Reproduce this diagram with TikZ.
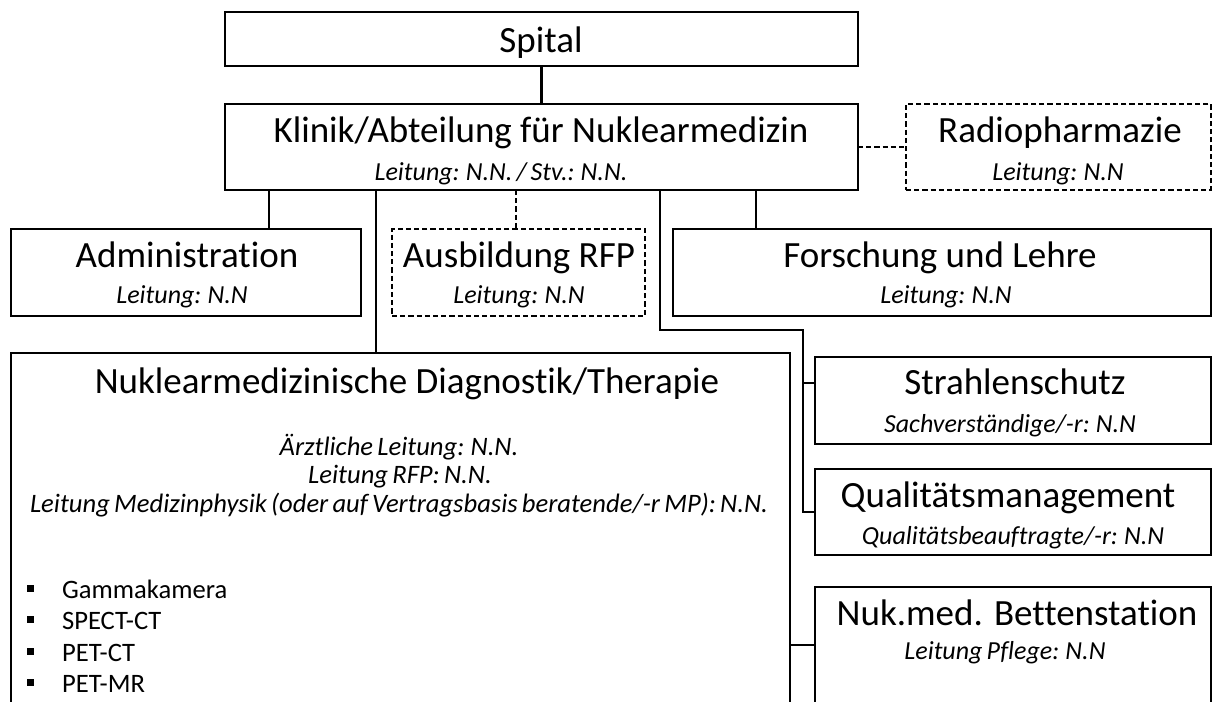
\documentclass[tikz,border=0pt]{standalone}
\usepackage{fontspec}
\setmainfont{Carlito}[Ligatures=NoCommon]
\newfontfamily\subfont{Carlito}[Ligatures=NoCommon, WordSpace=0.7]
\usetikzlibrary{positioning}

\begin{document}
\begin{tikzpicture}[x=0.5pt, y=-0.5pt, line width=1.1pt,
  box/.style={draw, inner sep=0pt, outer sep=0pt},
  dbox/.style={box, dash pattern=on 2.6pt off 1.5pt},
  dline/.style={dash pattern=on 2.6pt off 1.5pt},
  head/.style={anchor=base, inner sep=0pt, font=\fontsize{18.5}{20}\selectfont},
  sub/.style={anchor=base, inner sep=0pt, font=\fontsize{13}{15}\subfont\itshape}]
  \useasboundingbox (0,0) rectangle (1212,702);
  \clip (0,0) rectangle (1212,702);
  % boxes
  \node[box, minimum width=316.5pt, minimum height=27pt] (spital) at (541.5,39) {};
  \node[box, minimum width=316.5pt, minimum height=43pt] (klinik) at (541.5,147) {};
  \node[dbox, minimum width=152.5pt, minimum height=43pt] (radio) at (1058.5,147) {};
  \node[box, minimum width=175pt, minimum height=43.5pt] (admin) at (186,272.5) {};
  \node[dbox, minimum width=126.5pt, minimum height=43.5pt] (ausb) at (518.5,272.5) {};
  \node[box, minimum width=269pt, minimum height=43.5pt] (forsch) at (942,272.5) {};
  \node[box, minimum width=198pt, minimum height=43.5pt] (strahl) at (1013,400.5) {};
  \node[box, minimum width=198pt, minimum height=43pt] (quali) at (1013,512) {};
  \node[box, minimum width=198pt, minimum height=66.5pt] (betten) at (1013,653.5) {};
  \node[box, minimum width=389.5pt, minimum height=183.5pt] (nukl) at (400.5,536.5) {};
  % texts
  \node[head] (spitalT) at (541,52) {Spital};
  \node[head] (klinikT) at (541,142) {Klinik/Abteilung für Nuklearmedizin};
  \node[sub] (klinikS) at (501,180) {Leitung: N.N. / Stv.: N.N.};
  \node[head] (radioT) at (1060,142) {Radiopharmazie};
  \node[sub] (radioS) at (1058,180) {Leitung: N.N};
  \node[head] (adminT) at (187,267) {Administration};
  \node[sub] (adminS) at (182,303) {Leitung: N.N};
  \node[head] (ausbT) at (519,267) {Ausbildung RFP};
  \node[sub] (ausbS) at (519,303) {Leitung: N.N};
  \node[head] (forschT) at (940,267) {Forschung und Lehre};
  \node[sub] (forschS) at (946,303) {Leitung: N.N};
  \node[head] (strahlT) at (1015,394) {Strahlenschutz};
  \node[sub] (strahlS) at (1010,432) {Sachverständige/-r: N.N};
  \node[head] (qualiT) at (1008,507) {Qualitätsmanagement};
  \node[sub] (qualiS) at (1013,544) {Qualitätsbeauftragte/-r: N.N};
  \node[head] (bettenT) at (1017,625) {Nuk.med. Bettenstation};
  \node[sub] (bettenS) at (1005,659) {Leitung Pflege: N.N};
  \node[head] (nuklT) at (407,393) {Nuklearmedizinische Diagnostik/Therapie};
  \node[sub, font=\fontsize{13.3}{15}\subfont\itshape] (nuklA) at (399,455) {Ärztliche Leitung: N.N.};
  \node[sub, font=\fontsize{13.3}{15}\subfont\itshape] (nuklB) at (400,483) {Leitung RFP: N.N.};
  \node[sub, font=\fontsize{13.3}{15}\subfont\itshape] (nuklC) at (399,512) {Leitung Medizinphysik (oder auf Vertragsbasis beratende/-r MP): N.N.};
  \foreach \t [count=\i from 0] in {Gammakamera, SPECT-CT, PET-CT, PET-MR}{
    \node[fill, inner sep=0pt, minimum size=3.5pt] (dot\i) at (30,588+31.5*\i) {};
    \node[anchor=base west, inner sep=0pt, font=\fontsize{13.3}{15}\selectfont] (item\i) at (61,598+31.5*\i) {\t};}
  % connectors
  \coordinate (tAdm) at (269,0); \coordinate (tNuk) at (376,0);
  \coordinate (tAus) at (516,0); \coordinate (tFor) at (756,0);
  \coordinate (bend) at (660,330); \coordinate (rail) at (803,330);
  \coordinate (tStr) at (0,383); \coordinate (tBet) at (0,645);
  \draw (spital) -- (klinik);
  \draw[dline] (klinik) -- (radio);
  \draw (klinik.south -| tAdm) -- (admin.north -| tAdm);
  \draw (klinik.south -| tNuk) -- (nukl.north -| tNuk);
  \draw[dline] (klinik.south -| tAus) -- (ausb.north -| tAus);
  \draw (klinik.south -| tFor) -- (forsch.north -| tFor);
  \draw (klinik.south -| bend) -- (bend) -- (rail) -- (rail |- quali.west) -- (quali.west);
  \draw (rail |- tStr) -- (strahl.west |- tStr);
  \draw (nukl.east |- tBet) -- (betten.west |- tBet);
\end{tikzpicture}
\end{document}
